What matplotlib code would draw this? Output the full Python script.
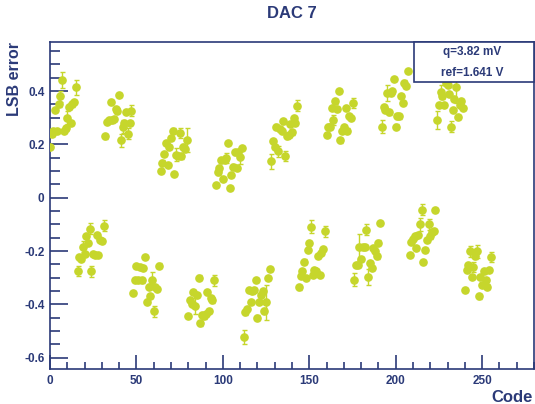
import numpy as np
import matplotlib
matplotlib.use("Agg")
import matplotlib.pyplot as plt
from matplotlib.ticker import MultipleLocator

plt.rcParams['font.family'] = ['Liberation Sans', 'DejaVu Sans']
plt.rcParams['font.weight'] = 'bold'

NAVY = '#2b3a78'
DOT = '#c6d62c'

# LSB error per DAC code, 16 codes per block, blocks alternate high / low
blocks = [
    [0.19, 0.24, 0.25, 0.33, 0.25, 0.35, 0.38, 0.44, 0.25, 0.26, 0.30, 0.34, 0.28, 0.35, 0.36, 0.415],
    [-0.274, -0.222, -0.230, -0.183, -0.21, -0.142, -0.17, -0.116, -0.276, -0.21, -0.214, -0.141, -0.214, -0.157, -0.162, -0.104],
    [0.23, 0.284, 0.29, 0.36, 0.29, 0.295, 0.333, 0.327, 0.386, 0.215, 0.267, 0.28, 0.321, 0.24, 0.28, 0.327],
    [-0.357, -0.307, -0.255, -0.307, -0.26, -0.31, -0.264, -0.222, -0.389, -0.333, -0.367, -0.307, -0.426, -0.335, -0.342, -0.254],
    [0.099, 0.132, 0.164, 0.205, 0.124, 0.19, 0.224, 0.252, 0.09, 0.161, 0.157, 0.243, 0.155, 0.192, 0.183, 0.215],
    [-0.442, -0.385, -0.397, -0.354, -0.404, -0.364, -0.299, -0.471, -0.439, -0.445, -0.435, -0.355, -0.424, -0.376, -0.385, -0.31],
    [0.049, 0.095, 0.111, 0.14, 0.07, 0.142, 0.149, 0.205, 0.036, 0.086, 0.117, 0.17, 0.111, 0.17, 0.153, 0.186],
    [-0.522, -0.43, -0.417, -0.345, -0.392, -0.351, -0.345, -0.307, -0.449, -0.392, -0.364, -0.351, -0.423, -0.392, -0.301, -0.266],
    [0.136, 0.211, 0.19, 0.267, 0.174, 0.258, 0.249, 0.286, 0.157, 0.23, 0.236, 0.276, 0.245, 0.299, 0.28, 0.345],
    [-0.336, -0.292, -0.276, -0.239, -0.301, -0.195, -0.17, -0.108, -0.289, -0.27, -0.276, -0.217, -0.289, -0.207, -0.192, -0.126],
    [0.236, 0.267, 0.267, 0.336, 0.292, 0.361, 0.333, 0.401, 0.215, 0.251, 0.264, 0.336, 0.252, 0.305, 0.30, 0.355],
    [-0.307, -0.251, -0.251, -0.185, -0.23, -0.185, -0.185, -0.12, -0.297, -0.245, -0.264, -0.189, -0.201, -0.22, -0.168, -0.095],
    [0.267, 0.34, 0.33, 0.393, 0.32, 0.393, 0.399, 0.446, 0.267, 0.305, 0.305, 0.382, 0.355, 0.432, 0.42, 0.476],
    [-0.214, -0.164, -0.155, -0.145, -0.189, -0.139, -0.099, -0.045, -0.241, -0.195, -0.157, -0.099, -0.145, -0.13, -0.124, -0.045],
    [0.292, 0.349, 0.396, 0.38, 0.349, 0.43, 0.424, 0.39, 0.267, 0.33, 0.37, 0.414, 0.302, 0.349, 0.361, 0.336],
    [-0.345, -0.272, -0.251, -0.201, -0.297, -0.26, -0.22, -0.201, -0.37, -0.297, -0.326, -0.276, -0.307, -0.333, -0.272, -0.222],
]
lsb_err = np.concatenate(blocks)
codes = np.arange(len(lsb_err))

# codes whose uncertainty sticks out of the marker
big_err_codes = [6, 7, 10, 15, 16, 19, 23, 24, 31, 41, 42, 45, 47, 59, 60, 73, 75, 79,
                 84, 95, 102, 110, 112, 125, 128, 132, 136, 143, 151, 159, 164, 175,
                 176, 179, 183, 184, 192, 195, 214, 215, 219, 224, 226, 232, 235,
                 243, 245, 247, 255]
big_err_vals = [0.02, 0.03, 0.025, 0.028, 0.02, 0.02, 0.02, 0.02, 0.02, 0.025, 0.025, 0.02, 0.02, 0.03, 0.022,
                0.025, 0.02, 0.045, 0.03, 0.02, 0.02, 0.025, 0.025, 0.065, 0.027, 0.02, 0.02, 0.02,
                0.025, 0.02, 0.02, 0.02, 0.025, 0.05, 0.02, 0.03, 0.025, 0.03, 0.025, 0.02,
                0.02, 0.035, 0.025, 0.02, 0.06, 0.02, 0.02, 0.025, 0.02]
errors = np.full(len(lsb_err), 0.008)
errors[big_err_codes] = big_err_vals

q_mV = 3.82
ref_V = 1.641

fig = plt.figure(figsize=(5.35, 4.04), dpi=100)
ax = fig.add_axes([50 / 535, 35 / 404, 484 / 535, 327 / 404])

ax.errorbar(codes, lsb_err, yerr=errors, fmt='o', color=DOT, ms=5.2, mec=DOT,
             elinewidth=1.0, capsize=1.8, capthick=1.0, zorder=3)

ax.set_xlim(0, 280)
ax.set_ylim(-0.642, 0.584)

ax.xaxis.set_major_locator(MultipleLocator(50))
ax.xaxis.set_minor_locator(MultipleLocator(10))
ax.yaxis.set_major_locator(MultipleLocator(0.2))
ax.yaxis.set_minor_locator(MultipleLocator(0.05))
ax.yaxis.set_major_formatter(plt.FuncFormatter(lambda v, p: '0' if abs(v) < 1e-9 else f'{v:.1f}'))

ax.tick_params(which='both', direction='in', colors=NAVY, labelsize=8.5, width=1.2,
               top=False, right=False)
ax.tick_params(axis='y', which='major', length=13, pad=4)
ax.tick_params(axis='y', which='minor', length=7)
ax.tick_params(axis='x', which='major', length=10, pad=4)
ax.tick_params(axis='x', which='minor', length=5)
for lbl in ax.get_xticklabels() + ax.get_yticklabels():
    lbl.set_fontweight('bold')

for sp in ax.spines.values():
    sp.set_color(NAVY)
    sp.set_linewidth(1.2)

fig.text(292 / 535, 1 - 14 / 404, 'DAC 7', ha='center', va='center',
         fontsize=12, fontweight='bold', color=NAVY)
fig.text(533 / 535, 1 - 397 / 404, 'Code', ha='right', va='center',
         fontsize=12, fontweight='bold', color=NAVY)
fig.text(15 / 535, 1 - 42 / 404, 'LSB error', ha='center', va='top', rotation=90,
         fontsize=11.5, fontweight='bold', color=NAVY)

# stats box in the top right corner
bx0, by0 = 413.5 / 535, 1 - 82 / 404
bw, bh = (534 - 413.5) / 535, 40 / 404
box = plt.Rectangle((bx0, by0), bw, bh, transform=fig.transFigure,
                    facecolor='white', edgecolor=NAVY, lw=1.2, zorder=5)
fig.add_artist(box)
fig.text(472 / 535, 1 - 52 / 404, f'q={q_mV:.2f} mV', ha='center', va='center',
         fontsize=8.5, fontweight='bold', color=NAVY, zorder=6)
fig.text(472 / 535, 1 - 73 / 404, f'ref={ref_V:.3f} V', ha='center', va='center',
         fontsize=8.5, fontweight='bold', color=NAVY, zorder=6)

fig.savefig('out.png', dpi=100)
